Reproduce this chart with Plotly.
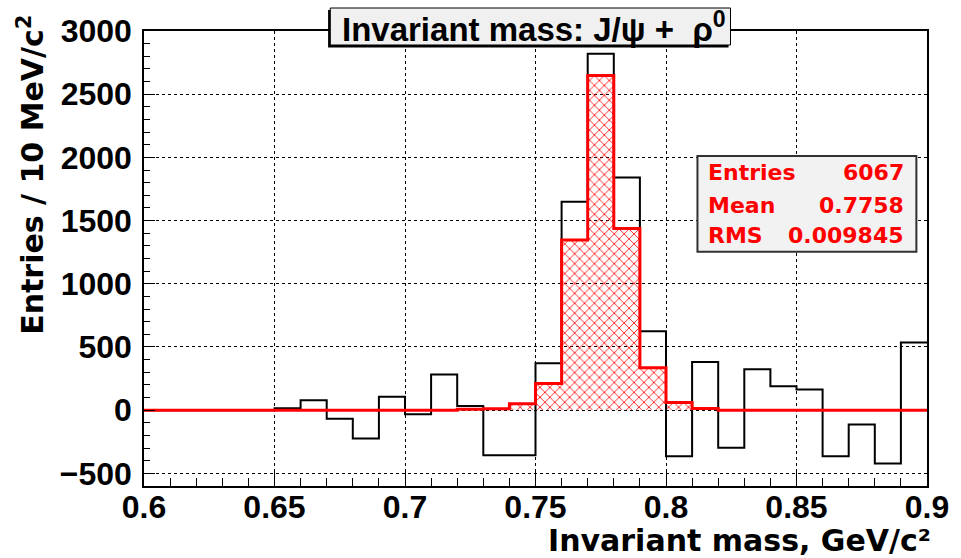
import plotly.graph_objects as go

# Invariant-mass histogram, 10 MeV bins from 0.60 to 0.90 GeV/c^2
bin_low = [0.60, 0.61, 0.62, 0.63, 0.64, 0.65, 0.66, 0.67, 0.68, 0.69,
           0.70, 0.71, 0.72, 0.73, 0.74, 0.75, 0.76, 0.77, 0.78, 0.79,
           0.80, 0.81, 0.82, 0.83, 0.84, 0.85, 0.86, 0.87, 0.88, 0.89]
bin_width = 0.01

# background-subtracted data (black)
data_counts = [0, 0, 0, 0, 0, 16, 79, -68, -224, 106,
               -32, 282, 32, -356, -356, 372, 1649, 2820, 1841, 625,
               -364, 382, -298, 324, 190, 164, -364, -113, -422, 536]

# rho0 signal (red, hatched)
signal_counts = [0, 0, 0, 0, 0, 0, 0, 0, 0, 0,
                 0, 0, 8, 12, 50, 211, 1347, 2648, 1437, 336,
                 61, 13, 0, 0, 0, 0, 0, 0, 0, 0]

stats_labels = ["Entries", "Mean", "RMS"]
stats_values = ["6067", "0.7758", "0.009845"]

title_text = "Invariant mass: J/\u03c8 + &nbsp;\u03c1<sup>0</sup>"
x_title = "Invariant mass, GeV/c\u00b2"
y_title = "Entries / 10 MeV/c<sup>2</sup>"

FONT = "Liberation Sans, Arial, Helvetica, sans-serif"
WIDE = "DejaVu Sans, Liberation Sans, sans-serif"

# frame geometry in pixels
W, H = 961, 558
L, R, T, B = 144, 933, 31, 486


def px(x):
    return (x - L) / (R - L)


def py(y):
    return (B - y) / (B - T)


x_edges = bin_low + [bin_low[-1] + bin_width]
x_centers = [b + bin_width / 2 for b in bin_low]

fig = go.Figure()

# data histogram outline
fig.add_trace(go.Scatter(
    x=x_edges, y=data_counts + [data_counts[-1]],
    mode="lines", line=dict(color="black", width=2, shape="hv"),
    hoverinfo="skip", showlegend=False,
))

# hatched signal fill
fig.add_trace(go.Bar(
    x=x_centers, y=signal_counts, width=bin_width,
    marker=dict(
        color="rgba(0,0,0,0)",
        line=dict(width=0),
        pattern=dict(shape="x", fgcolor="#ff0000", bgcolor="rgba(0,0,0,0)",
                     size=7, solidity=0.22, fillmode="replace"),
    ),
    hoverinfo="skip", showlegend=False,
))

# signal outline
fig.add_trace(go.Scatter(
    x=x_edges, y=signal_counts + [signal_counts[-1]],
    mode="lines", line=dict(color="#ff0000", width=3, shape="hv"),
    hoverinfo="skip", showlegend=False,
))

axis_common = dict(
    showline=True, linecolor="black", linewidth=1.5, mirror=True,
    showgrid=True, gridcolor="rgb(0,0,0)", gridwidth=1, griddash="dot",
    zeroline=False, ticks="inside", tickcolor="black",
    tickfont=dict(family=FONT, size=32, color="black", weight="bold"),
)

fig.update_xaxes(
    range=[0.6, 0.9], tick0=0.6, dtick=0.05, ticklen=14, tickwidth=1,
    minor=dict(dtick=0.01, ticklen=8, ticks="inside", tickcolor="black"),
    tickformat="~g", ticklabelstandoff=-8,
    **axis_common,
)
fig.update_yaxes(
    range=[-600, 3000], tick0=0, dtick=500, ticklen=11, tickwidth=1,
    minor=dict(dtick=100, ticklen=6, ticks="inside", tickcolor="black"),
    ticklabelstandoff=4,
    **axis_common,
)

shapes = [
    # title box shadow + box
    dict(type="rect", xref="paper", yref="paper",
         x0=px(329.5), x1=px(733), y0=py(47.5), y1=py(10),
         fillcolor="black", line=dict(width=0), layer="above"),
    dict(type="rect", xref="paper", yref="paper",
         x0=px(331.7), x1=px(735), y0=py(45), y1=py(8),
         fillcolor="#f0f0f0", line=dict(color="black", width=1), layer="above"),
    # statistics box
    dict(type="rect", xref="paper", yref="paper",
         x0=px(701.7), x1=px(922.3), y0=py(251.7), y1=py(156),
         fillcolor="#f2f2f2", line=dict(color="#303030", width=2), layer="above"),
]

annotations = [
    dict(text=f"<b>{title_text}</b>", xref="paper", yref="paper",
         x=px(536.5), y=py(27), xanchor="center", yanchor="middle",
         showarrow=False, font=dict(family=FONT, size=33, color="black")),
    dict(text=f"<b>{x_title}</b>", xref="paper", yref="paper",
         x=px(939), y=py(540), xanchor="right", yanchor="middle",
         showarrow=False, font=dict(family=WIDE, size=30, color="black")),
    dict(text=f"<b>{y_title}</b>", xref="paper", yref="paper",
         x=px(31), y=py(13), xanchor="center", yanchor="top", textangle=-90,
         showarrow=False, font=dict(family=WIDE, size=30, color="black")),
]

row_y = [172, 205, 236]
for lab, val, yy in zip(stats_labels, stats_values, row_y):
    annotations.append(dict(text=f"<b>{lab}</b>", xref="paper", yref="paper",
                            x=px(710), y=py(yy), xanchor="left", yanchor="middle",
                            showarrow=False,
                            font=dict(family=WIDE, size=22, color="#ff0000")))
    annotations.append(dict(text=f"<b>{val}</b>", xref="paper", yref="paper",
                            x=px(911.5), y=py(yy), xanchor="right", yanchor="middle",
                            showarrow=False,
                            font=dict(family=WIDE, size=22, color="#ff0000")))

fig.update_layout(
    width=W, height=H,
    margin=dict(l=L, r=W - R, t=T, b=H - B, pad=0),
    paper_bgcolor="white", plot_bgcolor="white",
    bargap=0, barmode="overlay",
    shapes=shapes, annotations=annotations,
    showlegend=False,
)

fig.write_html("out.html")
